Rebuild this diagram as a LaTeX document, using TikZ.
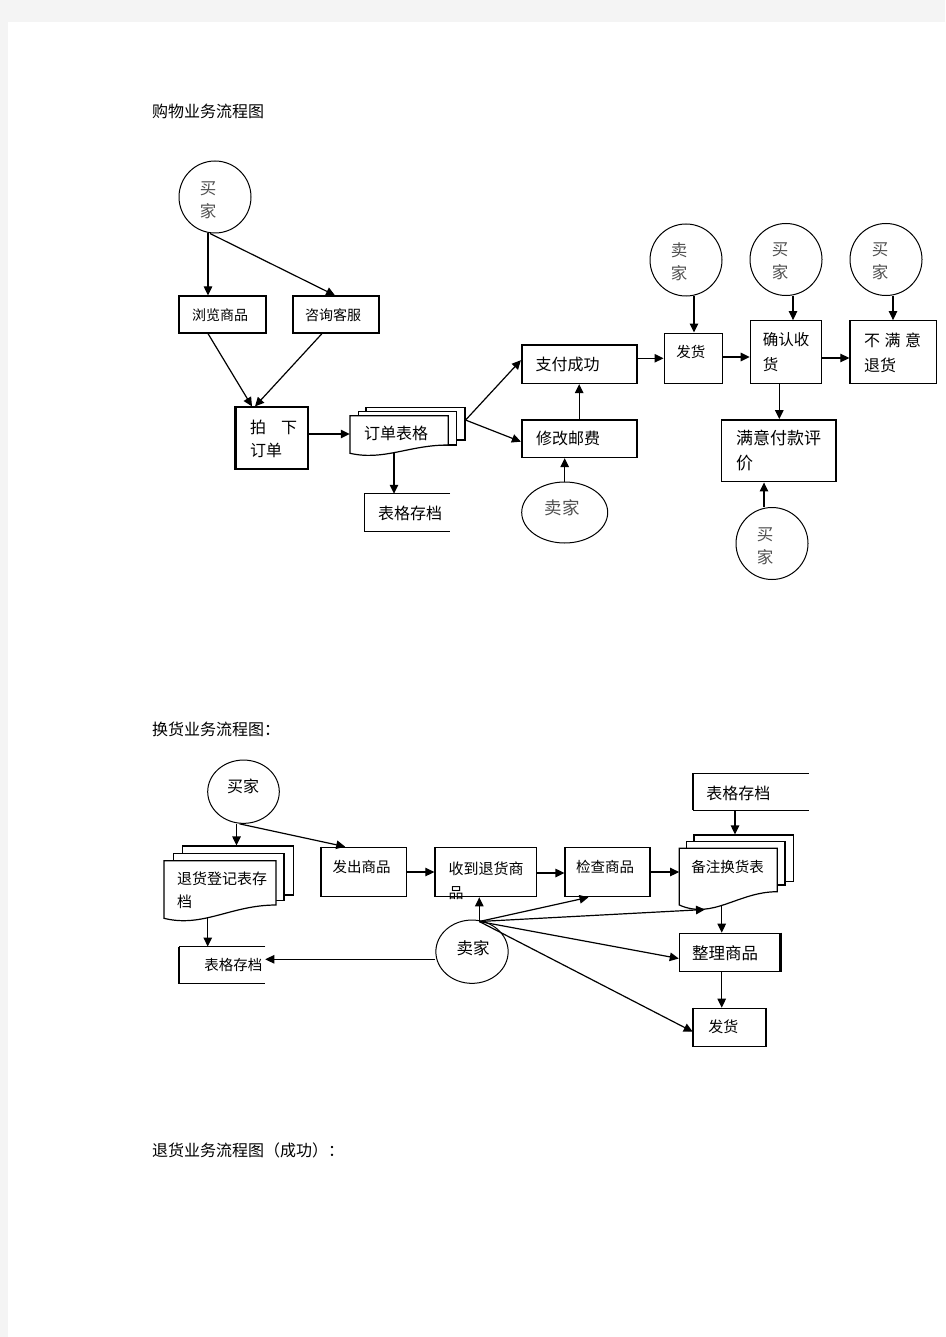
\documentclass[tikz,border=0pt]{standalone}
\usepackage{fontspec}
\setmainfont{Noto Sans CJK SC}
\usetikzlibrary{arrows.meta,shapes.geometric,calc}
\newcommand{\fz}[1]{\fontsize{#1pt}{#1pt}\selectfont}
\definecolor{pagegray}{HTML}{F4F4F4}
\definecolor{ctext}{HTML}{505050}
\begin{document}
\begin{tikzpicture}[x=1pt,y=-1pt,
 ln/.style={line width=1.2pt},
 arr/.style={line width=1.2pt,-{Triangle[length=9pt,width=8.5pt]}},
 box/.style={draw,line width=1.2pt,fill=white,rectangle,inner sep=0pt},
 hbox/.style={box,line width=1.6pt},
 ghost/.style={rectangle,inner sep=0pt,draw=none},
 circ/.style={draw,circle,line width=1pt,minimum size=72pt,inner sep=0pt},
 ell/.style={draw,ellipse,line width=1pt,inner sep=0pt},
 lbl/.style={inner sep=0pt},
 ctxt/.style={inner sep=0pt,text=ctext,align=center,font={\fontsize{16.5pt}{23pt}\selectfont}},
 edge2/.style={line width=2.2pt},
]
% page
\path[fill=pagegray] (0,0) rectangle (945,1337);
\path[fill=white] (8,22) rectangle (945,1337);

% titles
\node[lbl,anchor=west,font=\fz{16}] (title1) at (152,111) {购物业务流程图};
\node[lbl,anchor=west,font=\fz{16}] (title2) at (152,729) {换货业务流程图：};
\node[lbl,anchor=west,font=\fz{16}] (title3) at (152,1150) {退货业务流程图（成功）：};

% ================= diagram 1 =================
\node[circ] (b1) at (215,197) {};
\node[ctxt] (b1t) at (208,200) {买\\家};

\node[box,minimum width=87pt,minimum height=37pt] (browse) at (222.5,314.5) {};
\node[lbl,font=\fz{14}] (browset) at (220,315) {浏览商品};
\node[box,minimum width=86pt,minimum height=37pt] (consult) at (336,314.5) {};
\node[lbl,font=\fz{14}] (consultt) at (333,315) {咨询客服};

\node[box,minimum width=72pt,minimum height=62pt] (order) at (272,438) {};
\draw[edge2] (order.north west) -- (order.south west);
\node[lbl,anchor=west,font=\fz{16}] (ordert1) at (250,427) {拍\hspace{15pt}下};
\node[lbl,anchor=west,font=\fz{16}] (ordert2) at (250,450) {订单};

% order form stack
\node[box,minimum width=99pt,minimum height=32.7pt] (form3) at (415.5,423.65) {};
\node[box,minimum width=98.4pt,minimum height=33.3pt] (form2) at (407.5,428.35) {};
\draw[ln,fill=white] (350,415.7) -- (448.3,415.7) -- (448.3,445) .. controls (409,445) and (384,461) .. (350,453.3) -- cycle;
\node[ghost,minimum width=98.3pt,minimum height=37.6pt] (form) at (399.15,434.5) {};
\node[lbl,font=\fz{16}] (formt) at (396,433) {订单表格};
\coordinate (formb) at (394,452);

\node[ghost,minimum width=85pt,minimum height=37pt] (arch1) at (407.5,512.5) {};
\draw[ln] (arch1.north east) -- (arch1.north west) -- (arch1.south west) -- (arch1.south east);
\node[lbl,font=\fz{16}] (arch1t) at (410,513) {表格存档};

\node[hbox,minimum width=115pt,minimum height=38.3pt] (pay) at (579.2,364.2) {};
\node[lbl,font=\fz{16}] (payt) at (567.7,364) {支付成功};
\node[hbox,minimum width=115pt,minimum height=37.3pt] (post) at (579.2,438.7) {};
\node[lbl,font=\fz{16}] (postt) at (568,438) {修改邮费};
\node[ell,minimum width=86pt,minimum height=61pt] (s1) at (564.7,512.5) {};
\node[lbl,text=ctext,font=\fz{17.5}] (s1t) at (562.3,507.7) {卖家};

\node[hbox,minimum width=58pt,minimum height=50pt] (ship) at (693.3,358.3) {};
\node[lbl,font=\fz{14.5}] (shipt) at (690.8,351.7) {发货};
\node[circ] (s2) at (686,260) {};
\node[ctxt] (s2t) at (679,261.5) {卖\\家};

\node[box,minimum width=71.4pt,minimum height=62.6pt] (confirm) at (786,352) {};
\node[lbl,anchor=west,font=\fz{15.5}] (confirmt1) at (762.7,340) {确认收};
\node[lbl,anchor=west,font=\fz{15.5}] (confirmt2) at (762.7,365) {货};
\node[circ] (b2) at (786,259.5) {};
\node[ctxt] (b2t) at (780,261.5) {买\\家};

\node[box,minimum width=86.7pt,minimum height=62.6pt] (unsat) at (893.3,352) {};
\node[lbl,anchor=west,font=\fz{16}] (unsatt1) at (864,340) {不\hspace{4.5pt}满\hspace{4.5pt}意};
\node[lbl,anchor=west,font=\fz{16}] (unsatt2) at (864,365) {退货};
\node[circ] (b3) at (886,259.5) {};
\node[ctxt] (b3t) at (880,261.5) {买\\家};

\node[hbox,minimum width=114.3pt,minimum height=61.7pt] (sat) at (778.8,450.8) {};
\node[lbl,anchor=west,font=\fz{17}] (satt1) at (736,438) {满意付款评};
\node[lbl,anchor=west,font=\fz{17}] (satt2) at (736,463) {价};
\node[circ] (b4) at (772,543.5) {};
\node[ctxt] (b4t) at (765,546) {买\\家};

% connectors diagram 1
\draw[arr] ([xshift=-7pt]b1.south) -- ([xshift=-7pt]b1.south |- browse.north);
\draw[arr] ([xshift=-5pt]b1.south) -- ([xshift=-1pt]consult.north);
\draw[arr] ([xshift=-14.5pt]browse.south) -- ([xshift=-20pt]order.north);
\draw[arr] ([xshift=-14pt]consult.south) -- ([xshift=-17pt]order.north);
\draw[arr] ([yshift=4pt]order.east) -- ([yshift=4pt]order.east -| form.west);
\draw[arr] (formb) -- (formb |- arch1.north);
\draw[arr] ([yshift=3.6pt]form3.east) -- ([yshift=4pt]pay.west);
\draw[arr] ([yshift=3.6pt]form3.east) -- ([yshift=-3pt]post.west);
\draw[arr] (post.north) -- (pay.south);
\draw[arr] (s1.north) -- (s1.north |- post.south);
\draw[arr] (ship.west -| pay.east) -- (ship.west);
\draw[arr] ([xshift=8pt]s2.south) -- ([xshift=8pt]s2.south |- ship.north);
\draw[arr] ([yshift=-5pt]confirm.west -| ship.east) -- ([yshift=-5pt]confirm.west);
\draw[arr] ([xshift=7pt]b2.south) -- ([xshift=7pt]b2.south |- confirm.north);
\draw[arr] ([yshift=-6pt]confirm.east) -- ([yshift=-6pt]unsat.west);
\draw[arr] ([xshift=7pt]b3.south) -- ([xshift=7pt]b3.south |- unsat.north);
\draw[arr] ([xshift=-6.7pt]confirm.south) -- ([xshift=-6.7pt]confirm.south |- sat.north);
\draw[arr] ([xshift=-8pt]b4.north) -- ([xshift=-8pt]b4.north |- sat.south);

% ================= diagram 2 =================
\node[ell,minimum width=71.6pt,minimum height=63.3pt] (be) at (243.5,791.7) {};
\node[lbl,font=\fz{16}] (bet) at (243,786.7) {买家};

% return register stack
\node[box,minimum width=110.6pt,minimum height=49pt] (reg3) at (238,870.5) {};
\node[box,minimum width=110.7pt,minimum height=47.4pt] (reg2) at (228.65,877) {};
\draw[ln,fill=white] (164,860.7) -- (276,860.7) -- (276,905) .. controls (231,905) and (203,928) .. (164,918.3) -- cycle;
\node[ghost,minimum width=112pt,minimum height=57.6pt] (reg) at (220,889.5) {};
\node[lbl,anchor=west,font=\fz{15}] (regt1) at (177,879) {退货登记表存};
\node[lbl,anchor=west,font=\fz{15}] (regt2) at (177,901.7) {档};
\coordinate (regb) at (207.7,918);

\node[ghost,minimum width=85.7pt,minimum height=36.6pt] (arch2) at (222.2,965) {};
\draw[ln] (arch2.north east) -- (arch2.north west) -- (arch2.south west) -- (arch2.south east);
\draw[edge2] (arch2.north west) -- (arch2.south west);
\node[lbl,font=\fz{14.5}] (arch2t) at (233.3,965) {表格存档};

\node[box,minimum width=85pt,minimum height=49.4pt] (send) at (364.2,872) {};
\draw[edge2] (send.north west) -- (send.south west);
\node[lbl,font=\fz{14.5}] (sendt) at (361.7,866.7) {发出商品};

\node[box,minimum width=101.7pt,minimum height=49.4pt] (recv) at (485.8,872) {};
\node[lbl,anchor=west,font=\fz{15}] (recvt1) at (448.3,868.3) {收到退货商};
\node[lbl,anchor=west,font=\fz{15}] (recvt2) at (448.3,893.3) {品};

\node[box,minimum width=85pt,minimum height=49.4pt] (check) at (607.5,872) {};
\node[lbl,font=\fz{14.5}] (checkt) at (605,866.7) {检查商品};

% exchange note stack
\node[box,minimum width=99.3pt,minimum height=46.7pt] (note3) at (743.65,858.35) {};
\node[box,minimum width=98.3pt,minimum height=43.3pt] (note2) at (735.85,863.35) {};
\draw[ln,fill=white] (679.3,848.3) -- (777.3,848.3) -- (777.3,891.7) .. controls (738,891.7) and (713,920) .. (679.3,905) -- cycle;
\node[ghost,minimum width=98pt,minimum height=56.7pt] (note) at (728.3,876.65) {};
\node[lbl,font=\fz{14.5}] (notet) at (727.5,866.7) {备注换货表};
\coordinate (noteb) at (721.7,906);
\coordinate (notew) at (705,909.5);

\node[ghost,minimum width=115pt,minimum height=36.7pt] (arch3) at (750.8,791.7) {};
\draw[ln] (arch3.north east) -- (arch3.north west) -- (arch3.south west) -- (arch3.south east);
\draw[edge2] (arch3.north west) -- (arch3.south west);
\node[lbl,font=\fz{16}] (arch3t) at (738.3,793.3) {表格存档};

\node[box,minimum width=100.7pt,minimum height=38.4pt] (sort) at (729.7,952.5) {};
\draw[edge2] (sort.north east) -- (sort.south east);
\node[lbl,font=\fz{16.5}] (sortt) at (725,953.3) {整理商品};

\node[box,minimum width=72.7pt,minimum height=38.4pt] (ship2) at (729.7,1027.5) {};
\draw[edge2] (ship2.north west) -- (ship2.south west);
\node[lbl,font=\fz{15}] (ship2t) at (723.3,1026.7) {发货};

\node[ell,minimum width=72.3pt,minimum height=63.3pt] (se) at (472,951.7) {};
\node[lbl,font=\fz{16.5}] (set) at (473,948) {卖家};
\coordinate (set0) at (479.3,921.5);

% connectors diagram 2
\draw[arr] ([xshift=-7pt]be.south) -- ([xshift=-7pt]be.south |- reg3.north);
\draw[arr] ([xshift=-4pt]be.south) -- ([xshift=-19pt]send.north);
\draw[arr] (regb) -- (regb |- arch2.north);
\draw[arr] ([yshift=5.7pt]arch2.east -| se.west) -- ([yshift=5.7pt]arch2.east);
\draw[arr] (send.east) -- (recv.west);
\draw[arr] ([yshift=-1pt]recv.east) -- ([yshift=-1pt]check.west);
\draw[arr] (check.east) -- (check.east -| note.west);
\draw[arr] ([xshift=-15.8pt]arch3.south) -- ([xshift=-15.8pt]arch3.south |- note3.north);
\draw[arr] (noteb) -- (noteb |- sort.north);
\draw[arr] ([xshift=-8pt]sort.south) -- ([xshift=-8pt]sort.south |- ship2.north);
\draw[arr] (set0) -- (set0 |- recv.south);
\draw[arr] (set0) -- ([xshift=-19pt]check.south);
\draw[arr] (set0) -- (notew);
\draw[arr] (set0) -- ([yshift=-6pt]sort.west);
\draw[arr] (set0) -- ([yshift=-4.2pt]ship2.west);
\end{tikzpicture}
\end{document}
